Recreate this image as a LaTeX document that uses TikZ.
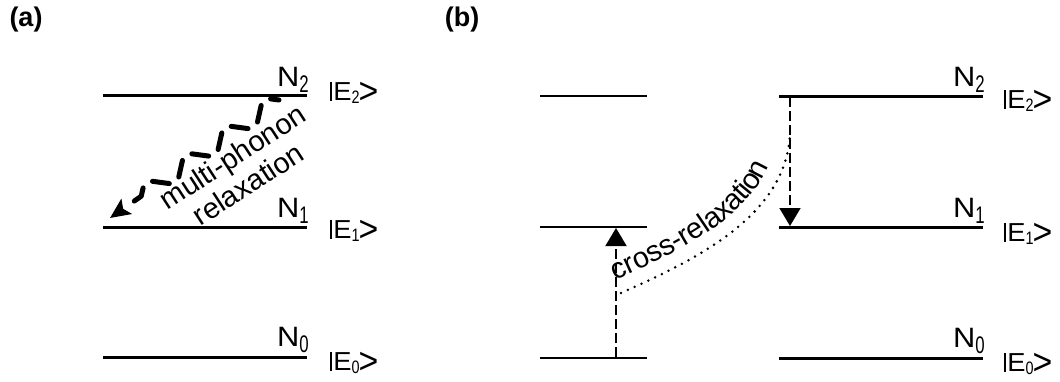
\documentclass[tikz,border=0pt]{standalone}
\usepackage{fontspec}
\setmainfont{Liberation Sans}
\usetikzlibrary{decorations.pathmorphing,decorations.text,arrows.meta}
\newcommand{\Nlab}[1]{\scalebox{1.1}[1]{N}\raisebox{-6pt}{\scalebox{0.7}[1]{\fontsize{24}{24}\selectfont #1}}}
\newcommand{\ketlab}[1]{\rule[-0.5pt]{1.6pt}{18.5pt}\hspace{1.5pt}\scalebox{1.05}[1]{E}\raisebox{-3pt}{\scalebox{0.8}[1]{\fontsize{18}{18}\selectfont #1}}\hspace{-1pt}\raisebox{-3.5pt}{\scalebox{1.3}[1.4]{>}}}
\tikzset{
  lvl/.style={line width=3pt},
  lvlthin/.style={line width=2pt},
  nlab/.style={anchor=base east, inner sep=0pt, font=\fontsize{28}{28}\selectfont},
  klab/.style={anchor=base west, inner sep=0pt, font=\fontsize{26}{26}\selectfont},
  panel/.style={anchor=center, inner sep=0pt, font=\fontsize{27}{27}\selectfont\bfseries},
  trans/.style={line width=1.7pt, dash pattern=on 10pt off 4pt, -{Triangle[length=18pt,width=21pt]}},
  phonon/.style={line width=5pt, line cap=round, line join=round,
    dash pattern=on 17pt off 15.56pt, dash phase=8.5pt,
    decorate, decoration={zigzag, segment length=48pt, amplitude=11pt, post length=16pt, mirror},
    -{Stealth[length=20pt,width=18pt,inset=4pt]}},
  dotline/.style={line width=2.8pt, dash pattern=on 0pt off 7.5pt, line cap=round},
  rtext/.style={font=\fontsize{29}{29}\selectfont}
}
\begin{document}
\begin{tikzpicture}[x=1pt,y=-1pt]
\useasboundingbox (0,0) rectangle (1060,381);
% panel labels
\node[panel] (pa) at (26,20) {(a)};
\node[panel] (pb) at (462,20) {(b)};
% ---------- panel (a)
\coordinate (a2l) at (103,95);  \coordinate (a2r) at (307,95);
\coordinate (a1l) at (103,227); \coordinate (a1r) at (307,227);
\coordinate (a0l) at (103,357); \coordinate (a0r) at (307,357);
\draw[lvl] (a2l) -- (a2r);
\draw[lvl] (a1l) -- (a1r);
\draw[lvl] (a0l) -- (a0r);
\node[nlab] (an2) at (309,86) {\Nlab{2}};
\node[nlab] (an1) at (309,217) {\Nlab{1}};
\node[nlab] (an0) at (309,346) {\Nlab{0}};
\node[klab] (ak2) at (330,100) {\ketlab{2}};
\node[klab] (ak1) at (330,238) {\ketlab{1}};
\node[klab] (ak0) at (330,370) {\ketlab{0}};
\coordinate (wstart) at (279,100);
\coordinate (wend) at (110,218);
\draw[phonon] (wstart) -- (wend);
\node[rtext, rotate=33] (mp) at (234,159) {multi-phonon};
\node[rtext, rotate=33] (rl) at (248,184) {relaxation};
% ---------- panel (b)
\coordinate (bl2l) at (540,96);  \coordinate (bl2r) at (647,96);
\coordinate (bl1l) at (540,227); \coordinate (bl1r) at (647,227);
\coordinate (bl0l) at (540,358); \coordinate (bl0r) at (647,358);
\draw[lvlthin] (bl2l) -- (bl2r);
\draw[lvlthin] (bl1l) -- (bl1r);
\draw[lvlthin] (bl0l) -- (bl0r);
\coordinate (br2l) at (779,96);  \coordinate (br2r) at (983,96);
\coordinate (br1l) at (779,227); \coordinate (br1r) at (983,227);
\coordinate (br0l) at (779,358); \coordinate (br0r) at (983,358);
\draw[lvl] (br2l) -- (br2r);
\draw[lvl] (br1l) -- (br1r);
\draw[lvl] (br0l) -- (br0r);
\node[nlab] (bn2) at (985,86) {\Nlab{2}};
\node[nlab] (bn1) at (985,217) {\Nlab{1}};
\node[nlab] (bn0) at (985,347) {\Nlab{0}};
\node[klab] (bk2) at (1004,108) {\ketlab{2}};
\node[klab] (bk1) at (1004,241) {\ketlab{1}};
\node[klab] (bk0) at (1004,371) {\ketlab{0}};
% transitions
\coordinate (upS) at (616,357);
\coordinate (upE) at (616,228);
\draw[trans] (upS) -- (upE);
\coordinate (dnS) at (790,97);
\coordinate (dnE) at (790,226);
\draw[trans] (dnS) -- (dnE);
% cross-relaxation
\coordinate (crS) at (621,293);
\coordinate (crE) at (790,135);
\draw[dotline] (crS) .. controls (700,258) and (785,215) .. (crE);
\path[decorate, decoration={text along path, text align=left, raise=14pt,
  text={|\fontsize{29}{29}\selectfont|cross-relaxation}}]
  (crS) .. controls (700,258) and (785,215) .. (crE);
\end{tikzpicture}
\end{document}
